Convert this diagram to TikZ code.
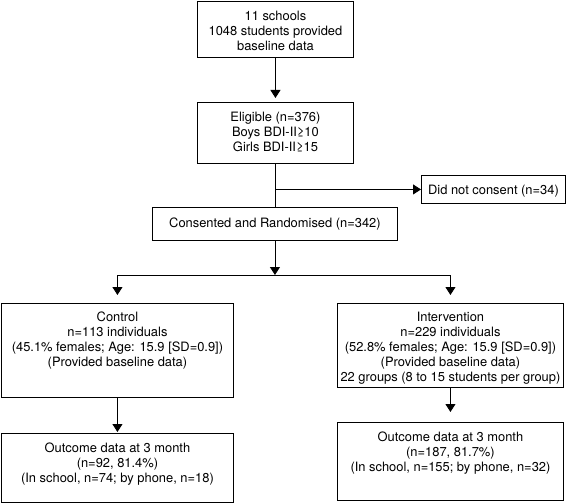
\documentclass[tikz,border=0pt]{standalone}
\usepackage{fontspec}
\setmainfont{TeX Gyre Heros}
\usetikzlibrary{arrows.meta,positioning}

\begin{document}
\begin{tikzpicture}[x=1pt, y=-1pt,
    box/.style={rectangle, draw, line width=0.9pt, anchor=north west, inner sep=0pt},
    lbl/.style={anchor=north, align=center, inner sep=0pt, font=\fontsize{12.9}{15}\selectfont},
    arr/.style={-{Triangle[length=8pt, width=10pt]}, line width=0.9pt}]
    \useasboundingbox (0,0) rectangle (568,503);

    % Boxes
    \node[box, minimum width=156pt, minimum height=56pt] (schools) at (197,1) {};
    \node[box, minimum width=156pt, minimum height=61pt] (eligible) at (197,102) {};
    \node[box, minimum width=144pt, minimum height=28pt] (nocons) at (421,175) {};
    \node[box, minimum width=245pt, minimum height=33pt] (consent) at (152,207) {};
    \node[box, minimum width=232pt, minimum height=94pt] (control) at (1,303) {};
    \node[box, minimum width=226pt, minimum height=84pt] (interv) at (337,303) {};
    \node[box, minimum width=232pt, minimum height=69pt] (outL) at (1,433) {};
    \node[box, minimum width=226pt, minimum height=78pt] (outR) at (337,422) {};

    % Texts
    \node[lbl, below=9.5pt of schools.north] (schoolsTxt) {11 schools\\1048 students provided\\baseline data};
    \node[lbl, below=9.5pt of eligible.north] (eligibleTxt) {Eligible (n=376)\\Boys BDI-II≥10\\Girls BDI-II≥15};
    \node[lbl, below=9.5pt of nocons.north] (noconsTxt) {Did not consent (n=34)};
    \node[lbl, below=11pt of consent.north] (consentTxt) {Consented and Randomised (n=342)};
    \node[lbl, below=8.5pt of control.north] (controlTxt) {Control\\n=113 individuals\\(45.1\% females; Age: 15.9 [SD=0.9])\\(Provided baseline data)};
    \node[lbl, below=8.5pt of interv.north] (intervTxt) {Intervention\\n=229 individuals\\(52.8\% females; Age: 15.9 [SD=0.9])\\(Provided baseline data)\\22 groups (8 to 15 students per group)};
    \node[lbl, below=9.5pt of outL.north] (outLTxt) {Outcome data at 3 month\\(n=92, 81.4\%)\\(In school, n=74; by phone, n=18)};
    \node[lbl, below=9.5pt of outR.north] (outRTxt) {Outcome data at 3 month\\(n=187, 81.7\%)\\(In school, n=155; by phone, n=32)};

    % Connectors
    \coordinate (branch) at (eligible.south |- nocons.west);
    \coordinate (split) at (consent.south |- 0,275);
    \draw[arr, shorten >=4pt] (schools.south) -- (eligible.north);
    \draw[line width=0.9pt] (eligible.south) -- (eligible.south |- consent.north);
    \draw[arr] (branch) -- (nocons.west);
    \draw[arr] (consent.south) -- (split);
    \draw[line width=0.9pt] (control.north |- split) -- (interv.north |- split);
    \draw[arr, shorten >=8pt] (control.north |- split) -- (control.north);
    \draw[arr, shorten >=8pt] (interv.north |- split) -- (interv.north);
    \draw[arr, shorten >=1pt] (control.south) -- (outL.north);
    \draw[arr, shorten >=10pt] (interv.south) -- (outR.north);
\end{tikzpicture}
\end{document}
